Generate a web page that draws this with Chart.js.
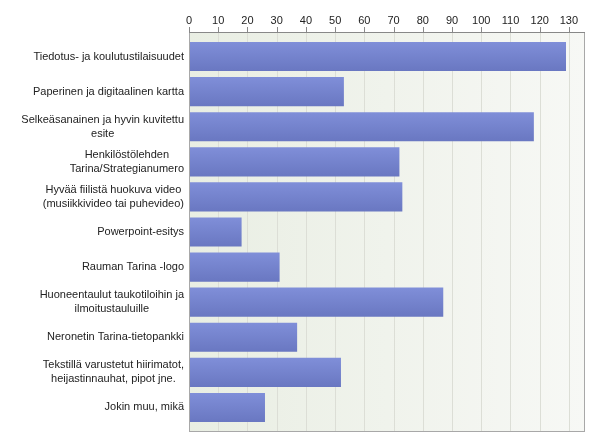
<!DOCTYPE html>
<html>
<head>
<meta charset="utf-8">
<script src="https://cdn.jsdelivr.net/npm/chart.js@4/dist/chart.umd.min.js"></script>
<style>
  html, body { margin: 0; padding: 0; background: #fff; }
  #wrap { width: 600px; height: 447px; }
</style>
</head>
<body>
<div id="wrap"><canvas id="chart"></canvas></div>
<script>
// Categories (multi-line labels as in the picture)
const categories = [
    ['Tiedotus- ja koulutustilaisuudet'],
    ['Paperinen ja digitaalinen kartta'],
    ['Selkeäsanainen ja hyvin kuvitettu', 'esite'],
    ['Henkilöstölehden', 'Tarina/Strategianumero'],
    ['Hyvää fiilistä huokuva video', '(musiikkivideo tai puhevideo)'],
    ['Powerpoint-esitys'],
    ['Rauman Tarina -logo'],
    ['Huoneentaulut taukotiloihin ja', 'ilmoitustauluille'],
    ['Neronetin Tarina-tietopankki'],
    ['Tekstillä varustetut hiirimatot,', 'heijastinnauhat, pipot jne.'],
    ['Jokin muu, mikä']
];

// Answer counts
const counts = [129, 53, 118, 72, 73, 18, 31, 87, 37, 52, 26];

// Axis
const axisMin = 0;
const axisMax = 135.5;
const tickStep = 10;
const lastTick = 130;

const FONT = '11px "Liberation Sans", Arial, sans-serif';
// the plot frame sits a few px outside the category area
const FRAME_GAP = 7;

// Plot background, grid, tick marks and frame
const plotFrame = {
    id: 'plotFrame',
    beforeDatasetsDraw(chart) {
        const { ctx, chartArea: a, scales } = chart;
        const top = a.top - FRAME_GAP, bottom = a.bottom + FRAME_GAP;
        const g = ctx.createLinearGradient(a.left, 0, a.right, 0);
        g.addColorStop(0, '#e9eee3');
        g.addColorStop(1, '#f7f8f5');
        ctx.save();
        ctx.fillStyle = g;
        ctx.fillRect(a.left, top, a.right - a.left, bottom - top);
        ctx.lineWidth = 1;
        scales.x.ticks.forEach(t => {
            const x = Math.round(scales.x.getPixelForValue(t.value)) + 0.5;
            ctx.strokeStyle = '#dcded6';
            ctx.beginPath();
            ctx.moveTo(x, top);
            ctx.lineTo(x, bottom);
            ctx.stroke();
            ctx.strokeStyle = '#888';
            ctx.beginPath();
            ctx.moveTo(x, top - 5);
            ctx.lineTo(x, top);
            ctx.stroke();
        });
        ctx.restore();
    },
    afterDraw(chart) {
        const { ctx, chartArea: a, scales } = chart;
        const top = a.top - FRAME_GAP, bottom = a.bottom + FRAME_GAP;
        ctx.save();
        ctx.strokeStyle = '#a8a8a8';
        ctx.lineWidth = 1;
        ctx.strokeRect(a.left + 0.5, top + 0.5, a.right - a.left - 1, bottom - top - 1);
        ctx.strokeStyle = '#888';
        ctx.beginPath();
        ctx.moveTo(a.left, top + 0.5);
        ctx.lineTo(a.right, top + 0.5);
        ctx.stroke();

        // category labels: block right-aligned to the axis, lines centred in the block
        ctx.font = FONT;
        ctx.fillStyle = '#222';
        ctx.textAlign = 'center';
        ctx.textBaseline = 'middle';
        const lineH = 14;
        const right = a.left - 5;
        categories.forEach((lines, i) => {
            const cy = scales.y.getPixelForValue(i);
            const w = Math.max(...lines.map(s => ctx.measureText(s).width));
            const cx = right - w / 2;
            const y0 = cy - (lines.length - 1) * lineH / 2;
            lines.forEach((s, k) => ctx.fillText(s, cx, y0 + k * lineH));
        });
        ctx.restore();
    }
};

function barFill(c) {
    const chart = c.chart;
    const y = chart.scales.y;
    if (!chart.chartArea || !y) return '#7482cc';
    const center = y.getPixelForValue(c.dataIndex);
    const half = 15;
    const g = chart.ctx.createLinearGradient(0, center - half, 0, center + half);
    g.addColorStop(0, '#808fd9');
    g.addColorStop(1, '#6977c1');
    return g;
}

new Chart(document.getElementById('chart'), {
    type: 'bar',
    data: {
        labels: categories,
        datasets: [{
            data: counts,
            backgroundColor: barFill,
            borderWidth: 0,
            categoryPercentage: 0.83,
            barPercentage: 1.0
        }]
    },
    plugins: [plotFrame],
    options: {
        indexAxis: 'y',
        responsive: true,
        maintainAspectRatio: false,
        animation: false,
        layout: { padding: { left: 0, right: 15, top: 0, bottom: 15 + FRAME_GAP } },
        plugins: {
            legend: { display: false },
            tooltip: { enabled: false }
        },
        scales: {
            x: {
                position: 'top',
                min: axisMin,
                max: axisMax,
                afterBuildTicks(scale) {
                    const t = [];
                    for (let v = axisMin; v <= lastTick; v += tickStep) t.push({ value: v });
                    scale.ticks = t;
                },
                afterFit(scale) { scale.height = 32 + FRAME_GAP; },
                grid: { display: false },
                border: { display: false },
                ticks: {
                    padding: 3,
                    color: '#222',
                    font: { family: 'Liberation Sans, Arial, sans-serif', size: 11 }
                }
            },
            y: {
                afterFit(scale) { scale.width = 189; },
                grid: { display: false },
                border: { display: false },
                ticks: { display: false }
            }
        }
    }
});
</script>
</body>
</html>
